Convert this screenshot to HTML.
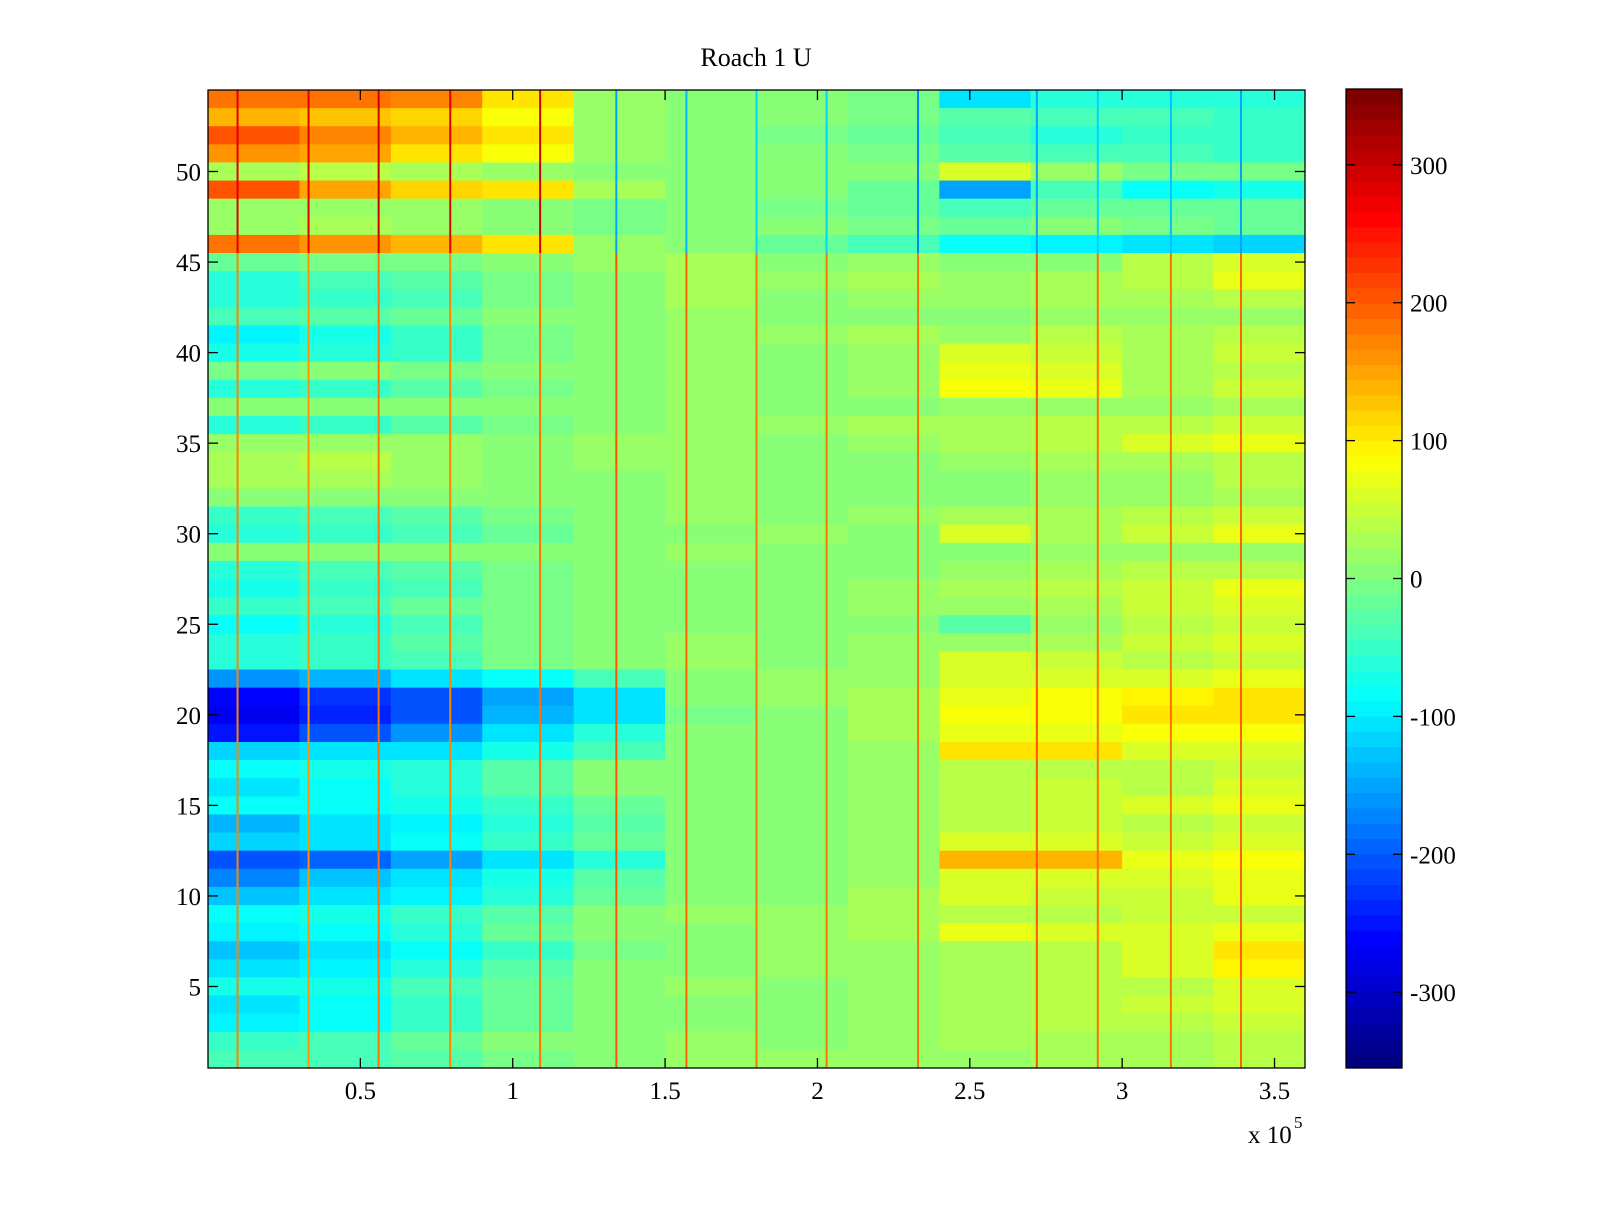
<!DOCTYPE html>
<html><head><meta charset="utf-8"><style>
body{margin:0;background:#fff;}
svg text{font-family:"Liberation Serif",serif;fill:#000;}
</style></head><body>
<svg id="fig" width="1600" height="1200" xmlns="http://www.w3.org/2000/svg">
<rect width="1600" height="1200" fill="#fff"/>
<text x="756" y="66" font-size="26" text-anchor="middle">Roach 1 U</text>
<g id="heat"></g>
<g id="cbar"></g>
<g id="axes"></g>
</svg>
<script>
// band edges along x (sample index), each band 30000 wide
const bandStarts = [0,30000,60000,90000,120000,150000,180000,210000,240000,270000,300000,330000];
// rows listed from row 54 (top) down to row 1 (bottom)
const rowValues = [
[180,180,170,100,20,0,0,-10,-100,-60,-60,-60],
[140,130,120,80,20,10,0,-10,-30,-40,-40,-50],
[200,170,140,100,20,0,-10,-20,-40,-60,-50,-50],
[160,150,110,80,20,0,0,-10,-30,-40,-40,-50],
[30,40,30,20,0,0,0,0,60,20,-10,-10],
[200,150,120,110,30,0,0,-20,-150,-40,-80,-70],
[20,20,20,0,-10,0,-10,-20,-40,-20,-20,-20],
[20,30,20,0,-10,0,10,-10,-20,0,-10,-20],
[180,160,140,100,20,0,-20,-40,-80,-90,-100,-120],
[-20,-10,-10,0,20,30,0,20,0,10,40,60],
[-60,-40,-30,-10,10,30,20,30,20,30,40,70],
[-60,-50,-40,-10,10,30,0,20,20,30,30,40],
[-40,-30,-20,0,10,20,0,10,0,20,20,20],
[-90,-70,-50,-10,10,20,20,30,20,40,30,40],
[-70,-60,-50,-10,10,20,0,20,60,50,30,50],
[-10,0,-10,0,10,20,10,20,70,60,30,40],
[-60,-50,-30,-10,10,20,10,20,80,70,30,50],
[0,10,0,10,10,20,0,10,20,20,20,30],
[-60,-50,-30,-10,0,20,20,30,30,40,40,50],
[20,20,20,10,20,20,10,20,30,40,60,70],
[30,40,20,10,20,20,0,10,20,30,30,40],
[30,30,20,10,10,20,0,10,10,20,20,40],
[0,10,0,0,10,20,0,10,0,20,20,30],
[-50,-40,-30,-10,0,20,10,20,30,30,40,50],
[-60,-50,-40,-20,0,10,20,10,60,30,50,70],
[0,0,0,0,10,20,0,10,0,20,20,20],
[-60,-40,-30,-10,0,10,0,0,20,30,40,40],
[-70,-50,-40,-10,0,10,10,20,30,40,50,70],
[-50,-40,-20,-10,10,10,10,20,20,30,50,60],
[-80,-60,-40,-10,0,10,0,10,-30,20,40,50],
[-60,-50,-30,-10,10,20,10,20,20,30,50,60],
[-60,-50,-40,-10,10,20,10,20,60,50,40,50],
[-160,-140,-110,-80,-40,10,20,20,60,60,60,70],
[-260,-230,-200,-150,-110,0,20,30,70,80,90,110],
[-270,-240,-200,-140,-100,-10,10,30,80,80,100,100],
[-250,-210,-160,-110,-60,0,10,30,70,70,80,80],
[-120,-110,-100,-70,-40,0,10,20,110,110,60,60],
[-80,-70,-60,-30,0,10,0,20,40,40,40,50],
[-110,-80,-60,-30,0,0,10,20,40,50,40,60],
[-80,-80,-70,-50,-20,10,10,20,40,50,60,70],
[-140,-110,-90,-60,-30,0,10,20,40,50,40,50],
[-120,-100,-80,-50,-20,10,10,20,60,60,50,60],
[-210,-190,-150,-110,-60,0,10,20,140,140,70,80],
[-170,-130,-110,-70,-30,0,0,20,60,60,60,70],
[-130,-110,-90,-60,-20,10,10,30,60,50,50,70],
[-80,-70,-50,-30,0,20,20,30,40,40,50,50],
[-90,-80,-60,-20,0,10,20,30,70,60,60,70],
[-130,-110,-80,-50,-10,10,20,20,30,40,60,100],
[-100,-90,-60,-30,0,10,20,20,30,40,60,90],
[-70,-70,-40,-20,0,20,10,20,30,40,40,60],
[-110,-80,-50,-20,0,10,10,20,30,40,50,60],
[-90,-80,-50,-20,0,10,10,20,30,40,40,50],
[-50,-40,-20,0,10,20,10,20,30,30,30,40],
[-40,-40,-30,-10,10,20,20,20,20,30,30,40]
];
// vertical spike events (sample index) and their values
const spikeX = [9700,33000,56000,79500,109000,134000,157000,180000,203000,233000,272000,292000,316000,339000];
const spikeLowerVal = [170,160,180,170,180,200,190,180,180,180,210,180,180,190];
const spikeUpperVal = [280,280,290,280,290,-150,-140,-120,-120,-170,-150,-120,-130,-150];
const xTicks = [50000,100000,150000,200000,250000,300000,350000];
const xTickLabels = ["0.5","1","1.5","2","2.5","3","3.5"];
const yTicks = [5,10,15,20,25,30,35,40,45,50];
const cTicks = [-300,-200,-100,0,100,200,300];

const NS="http://www.w3.org/2000/svg";
const L=208,R=1305,T=90,B=1068, XMAX=360000, NR=54, CMIN=-355, CMAX=355;
const xs=v=>L+(v/XMAX)*(R-L);
const ys=r=>T+(NR+0.5-r)/NR*(B-T);
function jet(v){
  let t=(v-CMIN)/(CMAX-CMIN); t=Math.max(0,Math.min(1,t));
  t=Math.min(63,Math.floor(t*64))/63;
  const f=x=>Math.max(0,Math.min(1,x));
  const r=f(1.5-Math.abs(4*t-3)),g=f(1.5-Math.abs(4*t-2)),b=f(1.5-Math.abs(4*t-1));
  return `rgb(${Math.round(r*255)},${Math.round(g*255)},${Math.round(b*255)})`;
}
function mk(tag,attrs,parent){const e=document.createElementNS(NS,tag);for(const k in attrs)e.setAttribute(k,attrs[k]);parent.appendChild(e);return e;}
const heat=document.getElementById('heat');
rowValues.forEach((vals,i)=>{
  const row=NR-i;
  vals.forEach((v,j)=>{
    const x0=xs(bandStarts[j]), x1=xs(j+1<bandStarts.length?bandStarts[j+1]:XMAX);
    const e=mk('rect',{x:x0,y:ys(row+0.5),width:x1-x0+0.5,height:ys(row-0.5)-ys(row+0.5)+0.5,fill:jet(v)},heat);
    
    
  });
});
spikeX.forEach((sx,k)=>{
  const x=xs(sx);
  const a=mk('rect',{x:x-1,y:ys(45.5),width:2,height:ys(0.5)-ys(45.5),fill:jet(spikeLowerVal[k])},heat);
  
  
  const b=mk('rect',{x:x-1,y:ys(54.5),width:2,height:ys(45.5)-ys(54.5),fill:jet(spikeUpperVal[k])},heat);
  
  
});
const ax=document.getElementById('axes');
mk('rect',{x:L,y:T,width:R-L,height:B-T,fill:'none',stroke:'#000','stroke-width':1.3},ax);
xTicks.forEach((v,i)=>{
  const x=xs(v);
  mk('line',{x1:x,x2:x,y1:B,y2:B-10,stroke:'#000','stroke-width':1.3},ax);
  mk('line',{x1:x,x2:x,y1:T,y2:T+10,stroke:'#000','stroke-width':1.3},ax);
  const t=mk('text',{x:x,y:1099,'font-size':25,'text-anchor':'middle'},ax);t.textContent=xTickLabels[i];
  
  
});
yTicks.forEach(v=>{
  const y=ys(v);
  mk('line',{x1:L,x2:L+10,y1:y,y2:y,stroke:'#000','stroke-width':1.3},ax);
  mk('line',{x1:R,x2:R-10,y1:y,y2:y,stroke:'#000','stroke-width':1.3},ax);
  const t=mk('text',{x:201,y:y+9,'font-size':25,'text-anchor':'end'},ax);t.textContent=v;
  
  
});
const ex=mk('text',{x:1248,y:1143,'font-size':25},ax);ex.textContent='x 10';


const ex5=mk('text',{x:1294,y:1128,'font-size':17},ax);ex5.textContent='5';


const cb=document.getElementById('cbar');
const CL=1346,CR=1402,CT=89,CB=1068;
const cy=v=>CB-(v-CMIN)/(CMAX-CMIN)*(CB-CT);
for(let k=0;k<64;k++){
  const v0=CMIN+k*(CMAX-CMIN)/64,v1=CMIN+(k+1)*(CMAX-CMIN)/64;
  const e=mk('rect',{x:CL,y:cy(v1),width:CR-CL,height:cy(v0)-cy(v1)+0.5,fill:jet((v0+v1)/2)},cb);
  
  
}
mk('rect',{x:CL,y:CT,width:CR-CL,height:CB-CT,fill:'none',stroke:'#000','stroke-width':1.3},cb);
cTicks.forEach(v=>{
  const y=cy(v);
  mk('line',{x1:CL,x2:CL+9,y1:y,y2:y,stroke:'#000','stroke-width':1.3},cb);
  mk('line',{x1:CR,x2:CR-9,y1:y,y2:y,stroke:'#000','stroke-width':1.3},cb);
  const t=mk('text',{x:1410,y:y+9,'font-size':25},cb);t.textContent=v;
  
  
});
</script>
</body></html>
